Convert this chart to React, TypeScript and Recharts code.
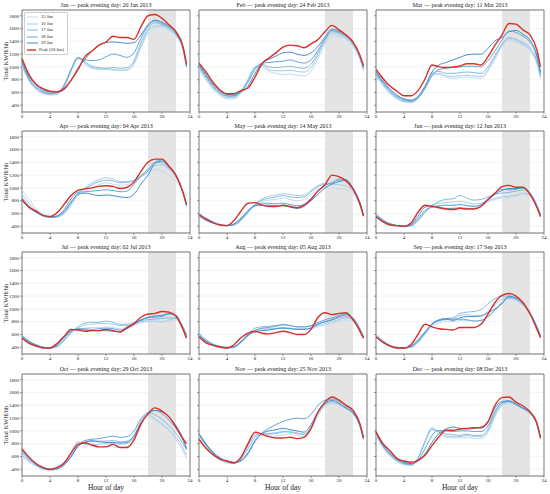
import React from "react";
import { LineChart, Line, XAxis, YAxis, CartesianGrid, ReferenceArea, Legend } from "recharts";

const HOURS = [0, 1, 2, 3, 4, 5, 6, 7, 8, 9, 10, 11, 12, 13, 14, 15, 16, 17, 18, 19, 20, 21, 22, 23, 23.5];
const X_TICKS = [0, 4, 8, 12, 16, 20, 24];
const Y_TICKS = [400, 600, 800, 1000, 1200, 1400, 1600, 1800];
const MONTHS = ["Jan", "Feb", "Mar", "Apr", "May", "Jun", "Jul", "Aug", "Sep", "Oct", "Nov", "Dec"];
const PEAK_DAYS = [
  "20 Jan 2013", "24 Feb 2013", "11 Mar 2013", "04 Apr 2013", "14 May 2013", "12 Jun 2013",
  "02 Jul 2013", "05 Aug 2013", "17 Sep 2013", "29 Oct 2013", "25 Nov 2013", "08 Dec 2013",
];
const JAN_LEGEND = ["15 Jan", "16 Jan", "17 Jan", "18 Jan", "19 Jan", "Peak (20 Jan)"];

// kWh per half-hour, read at each hour (last point 23:30)
const janPeak = [1130, 880, 730, 660, 620, 610, 660, 790, 960, 1160, 1250, 1340, 1390, 1480, 1460, 1460, 1430, 1630, 1800, 1820, 1760, 1660, 1550, 1320, 1050];
const janDays = [
  [1020, 780, 650, 580, 560, 570, 680, 920, 1120, 1040, 980, 960, 960, 950, 940, 950, 1040, 1300, 1520, 1610, 1620, 1570, 1480, 1260, 990],
  [1040, 790, 660, 590, 570, 580, 700, 950, 1140, 1060, 990, 970, 970, 960, 950, 960, 1060, 1330, 1560, 1640, 1640, 1580, 1490, 1270, 1000],
  [1060, 800, 670, 600, 580, 590, 720, 960, 1150, 1080, 1010, 990, 980, 990, 980, 990, 1100, 1380, 1600, 1690, 1660, 1610, 1510, 1280, 1010],
  [1080, 820, 690, 620, 590, 600, 700, 950, 1140, 1110, 1100, 1110, 1160, 1200, 1180, 1150, 1220, 1450, 1640, 1720, 1680, 1620, 1520, 1290, 1010],
  [1100, 850, 720, 640, 610, 610, 640, 790, 980, 1120, 1250, 1340, 1380, 1390, 1380, 1370, 1380, 1500, 1660, 1730, 1700, 1640, 1530, 1300, 1020],
];
const febPeak = [1060, 920, 760, 640, 580, 580, 630, 670, 840, 1050, 1140, 1220, 1310, 1340, 1330, 1300, 1360, 1430, 1550, 1650, 1580, 1500, 1390, 1180, 1020];
const febDays = [
  [950, 790, 650, 550, 500, 500, 590, 780, 990, 1000, 930, 900, 880, 890, 870, 860, 930, 1130, 1350, 1480, 1470, 1420, 1320, 1110, 940],
  [980, 820, 670, 570, 520, 520, 610, 800, 1000, 1020, 960, 940, 940, 950, 930, 920, 990, 1180, 1390, 1520, 1500, 1450, 1340, 1130, 960],
  [1000, 840, 690, 590, 540, 540, 620, 800, 990, 1040, 1000, 990, 1000, 1010, 990, 980, 1040, 1220, 1420, 1550, 1530, 1470, 1360, 1150, 980],
  [1020, 860, 710, 600, 550, 550, 610, 760, 960, 1060, 1070, 1080, 1090, 1110, 1080, 1060, 1110, 1260, 1440, 1570, 1540, 1480, 1370, 1160, 990],
  [1040, 880, 730, 620, 570, 570, 610, 700, 900, 1060, 1120, 1170, 1220, 1230, 1200, 1180, 1220, 1320, 1470, 1590, 1560, 1500, 1380, 1170, 1000],
];
const marPeak = [960, 820, 700, 620, 550, 550, 630, 810, 1030, 1000, 990, 1000, 1015, 1050, 1050, 1030, 1160, 1340, 1500, 1680, 1670, 1580, 1500, 1260, 1000];
const marDays = [
  [850, 710, 580, 500, 450, 440, 500, 670, 870, 880, 840, 820, 830, 840, 830, 820, 930, 1120, 1320, 1420, 1380, 1330, 1250, 1040, 820],
  [860, 720, 590, 510, 460, 450, 510, 680, 890, 900, 860, 850, 860, 870, 860, 850, 960, 1150, 1340, 1440, 1400, 1350, 1270, 1060, 840],
  [880, 740, 610, 520, 470, 460, 520, 680, 900, 930, 900, 900, 910, 920, 910, 900, 1000, 1180, 1360, 1460, 1430, 1380, 1300, 1090, 860],
  [900, 760, 630, 540, 490, 470, 520, 660, 860, 960, 980, 990, 1000, 1010, 1010, 1000, 1100, 1250, 1420, 1560, 1540, 1480, 1390, 1150, 900],
  [920, 780, 650, 560, 500, 480, 540, 700, 920, 1030, 1070, 1110, 1150, 1190, 1200, 1200, 1290, 1410, 1460, 1550, 1570, 1510, 1420, 1170, 920],
];
const aprPeak = [820, 700, 640, 570, 555, 610, 740, 880, 960, 985, 1000, 1025, 1035, 1025, 990, 1010, 1090, 1260, 1400, 1450, 1450, 1340, 1195, 930, 745];
const aprDays = [
  [970, 820, 680, 590, 550, 540, 590, 720, 880, 960, 1010, 1050, 1080, 1060, 1040, 1050, 1100, 1170, 1240, 1290, 1260, 1200, 1110, 960, 870],
  [900, 760, 650, 580, 550, 550, 610, 750, 910, 1000, 1080, 1130, 1160, 1140, 1100, 1100, 1120, 1200, 1280, 1350, 1360, 1290, 1170, 930, 740],
  [850, 720, 630, 570, 540, 550, 620, 760, 920, 990, 1050, 1100, 1120, 1110, 1080, 1090, 1110, 1190, 1300, 1400, 1390, 1310, 1180, 920, 710],
  [820, 700, 620, 560, 540, 560, 660, 830, 930, 940, 950, 960, 970, 960, 940, 950, 1060, 1180, 1260, 1400, 1440, 1340, 1200, 930, 720],
  [800, 690, 620, 570, 545, 560, 630, 780, 900, 920, 900, 880, 890, 880, 860, 850, 900, 1060, 1200, 1380, 1420, 1330, 1190, 920, 730],
];
const mayPeak = [580, 515, 460, 420, 410, 490, 640, 760, 770, 730, 710, 710, 730, 710, 690, 730, 820, 950, 1050, 1200, 1175, 1110, 980, 745, 560];
const mayDays = [
  [590, 510, 460, 420, 410, 420, 490, 610, 730, 790, 810, 820, 840, 820, 800, 820, 900, 980, 1010, 1000, 990, 970, 900, 720, 550],
  [610, 530, 470, 430, 410, 420, 500, 620, 750, 830, 870, 890, 910, 900, 880, 890, 960, 1040, 1070, 1060, 1050, 1030, 940, 740, 560],
  [600, 520, 460, 430, 410, 420, 500, 620, 740, 810, 840, 860, 880, 860, 850, 860, 940, 1020, 1060, 1080, 1120, 1110, 990, 760, 570],
  [560, 490, 450, 420, 410, 430, 510, 630, 720, 760, 760, 750, 760, 740, 720, 740, 840, 960, 1040, 1080, 1140, 1130, 1000, 770, 580],
  [570, 500, 450, 420, 410, 440, 530, 650, 720, 730, 730, 720, 720, 700, 680, 710, 800, 900, 1000, 1060, 1100, 1120, 990, 760, 570],
];
const junPeak = [550, 470, 420, 410, 400, 450, 620, 730, 710, 690, 670, 660, 680, 670, 670, 710, 820, 920, 1020, 1040, 1010, 1010, 900, 690, 550];
const junDays = [
  [580, 480, 430, 400, 390, 400, 480, 610, 700, 720, 730, 740, 750, 730, 720, 730, 780, 820, 840, 850, 870, 900, 880, 720, 580],
  [590, 490, 440, 410, 400, 410, 490, 620, 730, 760, 770, 780, 790, 770, 750, 760, 800, 840, 860, 870, 890, 920, 900, 730, 590],
  [600, 500, 440, 410, 400, 410, 500, 620, 720, 790, 820, 830, 880, 840, 810, 820, 860, 900, 920, 930, 950, 970, 920, 720, 580],
  [570, 490, 440, 410, 400, 420, 520, 650, 700, 720, 730, 720, 740, 720, 710, 740, 830, 920, 980, 970, 980, 1010, 920, 710, 570],
  [560, 480, 430, 410, 400, 430, 560, 700, 720, 700, 680, 680, 690, 680, 680, 720, 810, 900, 960, 990, 990, 1000, 910, 700, 560],
];
const julPeak = [540, 460, 420, 390, 390, 460, 570, 680, 670, 650, 660, 660, 680, 660, 640, 710, 770, 870, 920, 930, 960, 950, 890, 680, 540];
const julDays = [
  [570, 480, 430, 400, 390, 410, 500, 620, 680, 700, 710, 710, 720, 710, 690, 700, 740, 780, 800, 800, 790, 810, 830, 710, 590],
  [580, 490, 430, 400, 390, 410, 500, 630, 700, 750, 760, 770, 770, 760, 740, 740, 770, 800, 810, 810, 800, 830, 850, 720, 600],
  [590, 500, 440, 400, 390, 410, 510, 640, 720, 780, 790, 790, 810, 790, 760, 760, 790, 820, 830, 840, 850, 860, 860, 720, 590],
  [570, 490, 440, 400, 390, 430, 540, 650, 690, 690, 680, 690, 700, 690, 670, 700, 760, 820, 860, 870, 880, 920, 900, 700, 570],
  [560, 480, 430, 400, 390, 440, 560, 660, 680, 670, 660, 660, 660, 650, 640, 690, 760, 830, 870, 890, 900, 930, 880, 680, 560],
];
const augPeak = [560, 470, 430, 400, 390, 440, 550, 620, 650, 620, 610, 630, 650, 630, 600, 600, 680, 870, 940, 910, 930, 940, 830, 650, 540];
const augDays = [
  [590, 500, 440, 410, 390, 400, 470, 580, 650, 670, 680, 690, 700, 690, 680, 680, 690, 720, 750, 770, 800, 830, 810, 670, 550],
  [600, 510, 450, 410, 400, 410, 480, 590, 670, 690, 690, 700, 710, 700, 690, 690, 700, 740, 770, 800, 830, 860, 830, 680, 560],
  [620, 520, 450, 420, 400, 410, 490, 610, 700, 720, 730, 740, 760, 740, 720, 720, 730, 770, 800, 830, 860, 880, 850, 690, 570],
  [590, 500, 440, 410, 390, 400, 480, 580, 660, 700, 710, 730, 750, 740, 720, 720, 740, 790, 830, 860, 900, 920, 860, 680, 560],
  [580, 490, 430, 410, 390, 410, 490, 590, 640, 660, 670, 690, 700, 690, 680, 680, 700, 760, 800, 830, 880, 910, 840, 660, 550],
];
const sepPeak = [560, 480, 420, 390, 390, 440, 600, 760, 720, 690, 680, 670, 710, 710, 710, 760, 920, 1100, 1210, 1240, 1200, 1100, 920, 680, 550];
const sepDays = [
  [580, 480, 420, 400, 390, 400, 470, 600, 730, 780, 800, 800, 820, 820, 810, 820, 880, 990, 1100, 1150, 1130, 1050, 920, 720, 590],
  [590, 490, 430, 400, 390, 400, 480, 610, 750, 810, 830, 840, 900, 910, 900, 900, 960, 1060, 1150, 1170, 1140, 1060, 930, 720, 580],
  [600, 500, 430, 400, 390, 410, 490, 620, 760, 830, 850, 860, 930, 950, 960, 990, 1080, 1160, 1200, 1200, 1160, 1080, 940, 720, 580],
  [580, 480, 420, 390, 390, 410, 500, 630, 770, 830, 850, 840, 840, 830, 810, 820, 880, 980, 1100, 1180, 1160, 1080, 940, 710, 570],
  [560, 470, 420, 390, 390, 420, 520, 640, 760, 820, 840, 820, 860, 880, 880, 890, 940, 1000, 1080, 1200, 1170, 1080, 930, 700, 560],
];
const octPeak = [720, 590, 490, 430, 400, 430, 500, 650, 790, 810, 780, 750, 750, 790, 740, 740, 860, 1110, 1270, 1360, 1310, 1220, 1060, 880, 800];
const octDays = [
  [600, 510, 450, 400, 390, 400, 490, 680, 830, 790, 760, 750, 760, 750, 740, 750, 860, 1080, 1230, 1160, 1090, 1000, 860, 690, 570],
  [620, 530, 460, 410, 390, 400, 480, 650, 820, 800, 790, 790, 800, 800, 790, 800, 900, 1120, 1250, 1190, 1110, 1020, 900, 730, 620],
  [650, 550, 470, 410, 390, 400, 460, 590, 750, 830, 850, 840, 840, 850, 830, 840, 930, 1150, 1280, 1250, 1180, 1080, 960, 800, 700],
  [680, 570, 480, 420, 400, 410, 470, 600, 770, 850, 870, 880, 900, 920, 900, 910, 1000, 1190, 1290, 1320, 1270, 1170, 1040, 850, 720],
  [700, 580, 480, 420, 400, 420, 480, 600, 760, 820, 840, 830, 820, 820, 810, 820, 920, 1120, 1260, 1320, 1300, 1220, 1080, 880, 730],
];
const novPeak = [870, 730, 630, 560, 530, 500, 590, 800, 980, 950, 910, 890, 890, 900, 880, 900, 1040, 1300, 1450, 1530, 1480, 1400, 1320, 1110, 890];
const novDays = [
  [920, 760, 630, 550, 500, 490, 560, 760, 940, 930, 920, 920, 940, 950, 930, 910, 1020, 1240, 1380, 1430, 1400, 1340, 1260, 1060, 860],
  [930, 770, 640, 550, 510, 500, 580, 770, 930, 960, 950, 960, 980, 990, 970, 950, 1060, 1260, 1400, 1440, 1410, 1350, 1270, 1070, 870],
  [940, 780, 650, 560, 510, 500, 560, 720, 900, 950, 960, 970, 990, 980, 960, 940, 1060, 1280, 1420, 1460, 1430, 1360, 1280, 1080, 880],
  [950, 790, 660, 570, 520, 500, 530, 640, 830, 970, 1040, 1100, 1150, 1180, 1200, 1190, 1260, 1400, 1480, 1500, 1460, 1390, 1300, 1090, 890],
  [960, 800, 670, 580, 530, 510, 540, 660, 850, 960, 1000, 1020, 1040, 1020, 1000, 980, 1100, 1300, 1430, 1480, 1430, 1360, 1280, 1080, 880],
];
const decPeak = [990, 800, 690, 570, 530, 510, 540, 620, 770, 910, 1010, 1010, 1030, 1040, 1050, 1050, 1140, 1400, 1520, 1530, 1450, 1390, 1300, 1120, 890];
const decDays = [
  [930, 740, 610, 520, 470, 460, 560, 830, 1030, 960, 900, 890, 890, 900, 880, 880, 970, 1220, 1390, 1430, 1400, 1340, 1260, 1080, 870],
  [940, 750, 620, 530, 480, 470, 580, 850, 1050, 980, 920, 910, 910, 930, 910, 910, 1000, 1250, 1410, 1450, 1410, 1350, 1270, 1090, 880],
  [950, 760, 630, 540, 490, 470, 570, 820, 1020, 990, 950, 940, 930, 950, 930, 930, 1030, 1280, 1430, 1470, 1420, 1360, 1280, 1100, 890],
  [960, 770, 640, 550, 500, 480, 540, 720, 930, 1010, 1000, 990, 1000, 1000, 990, 990, 1080, 1310, 1440, 1460, 1410, 1350, 1280, 1100, 890],
  [980, 790, 660, 560, 510, 490, 530, 640, 820, 960, 1030, 1060, 1040, 1030, 1040, 1060, 1150, 1360, 1460, 1470, 1420, 1360, 1290, 1110, 900],
];

const PEAKS = [janPeak, febPeak, marPeak, aprPeak, mayPeak, junPeak, julPeak, augPeak, sepPeak, octPeak, novPeak, decPeak];
const DAYS = [janDays, febDays, marDays, aprDays, mayDays, junDays, julDays, augDays, sepDays, octDays, novDays, decDays];

const BLUES = ["#c3dcef", "#a6cde6", "#86bbdf", "#64a6d6", "#4590cc"];
const RED = "#d9302a";
const FONT = '"Liberation Serif", "DejaVu Serif", serif';

const COL_LEFT = [22, 199, 376];
const ROW_TOP = [10, 131, 252, 374];
const PLOT_W = 168;
const PLOT_H = 102;
const Y_AXIS_W = 22;
const M_TOP = 10;
const M_RIGHT = 5;
const Y_DOMAIN = [295, 1890];

function LegendBox({ payload }: { payload?: any[] }) {
  if (!payload) return null;
  return (
    <div
      style={{
        border: "0.7px solid #cccccc",
        borderRadius: 2,
        background: "rgba(255,255,255,0.9)",
        padding: "1px 3px 1px 2px",
        width: 37,
        fontFamily: FONT,
      }}
    >
      {payload.map((p) => (
        <div key={p.value} style={{ display: "flex", alignItems: "center", height: 6.5 }}>
          <svg width={11} height={4} style={{ display: "block" }}>
            <line x1={0} y1={2} x2={11} y2={2} stroke={p.color} strokeWidth={p.value.startsWith("Peak") ? 1.4 : 1} />
          </svg>
          <span style={{ marginLeft: 3, fontSize: 4.6, color: "#222", whiteSpace: "nowrap", lineHeight: "6px" }}>{p.value}</span>
        </div>
      ))}
    </div>
  );
}

function Panel({ idx }: { idx: number }) {
  const col = idx % 3;
  const row = Math.floor(idx / 3);
  const left = COL_LEFT[col];
  const top = ROW_TOP[row];
  const xAxisH = 10;
  const days = DAYS[idx];
  const peak = PEAKS[idx];
  const names = idx === 0 ? JAN_LEGEND : ["d1", "d2", "d3", "d4", "d5", "Peak"];
  const data = HOURS.map((h, i) => ({
    hour: h,
    d1: days[0][i],
    d2: days[1][i],
    d3: days[2][i],
    d4: days[3][i],
    d5: days[4][i],
    peak: peak[i],
  }));
  const tickStyle = { fontSize: 5, fill: "#222", fontFamily: FONT };

  return (
    <>
      <div
        style={{
          position: "absolute",
          left,
          top: top - 10,
          width: PLOT_W,
          height: 10,
          lineHeight: "10px",
          textAlign: "center",
          fontSize: 6,
          fontFamily: FONT,
          color: "#222",
          whiteSpace: "nowrap",
        }}
      >
        {MONTHS[idx]} — peak evening day: {PEAK_DAYS[idx]}
      </div>
      <div style={{ position: "absolute", left: left - Y_AXIS_W, top: top - M_TOP }}>
        <LineChart
          width={Y_AXIS_W + PLOT_W + M_RIGHT}
          height={M_TOP + PLOT_H + xAxisH}
          data={data}
          margin={{ top: M_TOP, right: M_RIGHT, bottom: 0, left: 0 }}
        >
          <CartesianGrid vertical={false} stroke="#ececec" strokeWidth={0.6} />
          <ReferenceArea x1={18} x2={22} y1={Y_DOMAIN[0]} y2={Y_DOMAIN[1]} fill="#e4e4e4" fillOpacity={1} stroke="none" />
          <XAxis
            type="number"
            dataKey="hour"
            domain={[0, 24]}
            ticks={X_TICKS}
            interval={0}
            height={xAxisH}
            tickSize={2}
            tickMargin={0}
            axisLine={false}
            tickLine={{ stroke: "#555", strokeWidth: 0.6 }}
            tick={tickStyle}
          />
          <YAxis
            type="number"
            domain={Y_DOMAIN}
            ticks={Y_TICKS}
            interval={0}
            width={Y_AXIS_W}
            tickSize={2}
            tickMargin={1}
            axisLine={false}
            tickLine={{ stroke: "#555", strokeWidth: 0.6 }}
            tick={tickStyle}
            tickFormatter={col === 0 ? (v: number) => String(v) : () => ""}
          />
          {["d1", "d2", "d3", "d4", "d5"].map((k, i) => (
            <Line
              key={k}
              dataKey={k}
              name={names[i]}
              type="monotone"
              stroke={BLUES[i]}
              strokeWidth={1}
              dot={false}
              isAnimationActive={false}
            />
          ))}
          <Line dataKey="peak" name={names[5]} type="monotone" stroke={RED} strokeWidth={1.4} dot={false} isAnimationActive={false} />
          <ReferenceArea x1={0} x2={24} y1={Y_DOMAIN[0]} y2={Y_DOMAIN[1]} fill="none" stroke="#555" strokeWidth={0.8} />
          {idx === 0 && (
            <Legend
              layout="vertical"
              align="center"
              verticalAlign="middle"
              content={<LegendBox />}
              wrapperStyle={{ top: 12, left: 24, width: "auto" }}
            />
          )}
        </LineChart>
      </div>
      {col === 0 && (
        <div
          style={{
            position: "absolute",
            left: 6 - 40,
            top: top + PLOT_H / 2 - 5,
            width: 80,
            height: 10,
            lineHeight: "10px",
            textAlign: "center",
            fontSize: 6.5,
            fontFamily: FONT,
            color: "#222",
            transform: "rotate(-90deg)",
          }}
        >
          Total KWH/hh
        </div>
      )}
      {row === 3 && (
        <div
          style={{
            position: "absolute",
            left,
            top: 483,
            width: PLOT_W,
            height: 10,
            lineHeight: "10px",
            textAlign: "center",
            fontSize: 7.5,
            fontFamily: FONT,
            color: "#222",
          }}
        >
          Hour of day
        </div>
      )}
    </>
  );
}

export default function App() {
  return (
    <div style={{ position: "absolute", left: 0, top: 0, width: 550, height: 494, background: "#fff", overflow: "hidden" }}>
      {MONTHS.map((m, i) => (
        <Panel key={m} idx={i} />
      ))}
    </div>
  );
}
